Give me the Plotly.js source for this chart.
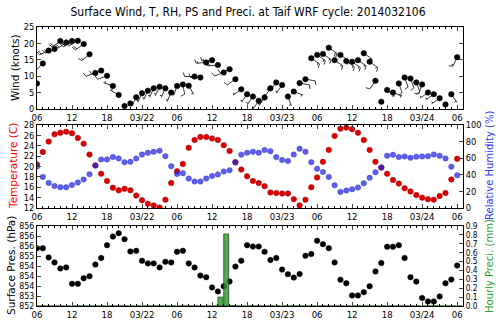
<!DOCTYPE html>
<html><head><meta charset="utf-8">
<script src="https://cdn.plot.ly/plotly-3.0.1.min.js"></script>
<style>html,body{margin:0;padding:0;background:#fff}#c{width:496px;height:323px}</style>
</head><body><div id="c"></div>
<script>
// hours since 2014-03-21 06Z
const hours = Array.from({length:73},(_,i)=>i);
const tickHours = [0,6,12,18,24,30,36,42,48,54,60,66,72];
const tickLabels = ['06','12','18','03/22','06','12','18','03/23','06','12','18','03/24','06'];

const windSpeed = [7.8,13.9,17.8,18.3,20.7,20.3,20.7,20.8,19.8,16.7,11.0,11.7,10.1,7.0,4.3,0.9,1.7,3.6,4.8,5.6,6.3,6.8,6.3,5.0,7.0,7.5,7.1,9.9,9.6,14.2,14.9,13.4,11.1,12.1,9.1,6.0,4.5,3.8,2.5,3.5,6.3,8.1,7.3,3.8,5.3,7.9,9.1,15.5,16.5,16.8,18.7,14.9,16.5,14.6,14.4,14.9,17.0,14.4,8.6,2.2,5.8,5.0,7.8,9.6,9.3,8.1,7.5,5.0,4.5,3.3,1.4,4.5,15.8];
const windDir = [240,225,245,245,235,235,235,240,235,230,250,250,250,290,300,200,200,205,205,205,205,205,205,205,200,170,150,270,270,265,265,265,250,250,235,235,215,215,215,215,215,215,215,160,110,100,100,125,125,125,125,125,125,125,125,125,125,125,215,200,130,110,160,160,160,160,200,235,235,235,200,145,205];

const temperature = [20.4,22.8,24.8,26.2,26.5,26.7,26.4,25.5,24.4,22.3,20.2,18.6,17.2,15.9,15.4,15.7,15.4,14.4,13.5,12.8,12.5,12.1,13.6,16.8,19.1,20.5,23.6,25.1,25.7,25.7,25.4,25.1,24.1,23.0,20.8,19.4,18.1,17.2,16.8,16.2,15.0,14.9,14.8,14.8,13.7,12.5,13.6,16.0,17.9,20.9,23.2,25.9,27.3,27.5,27.2,26.5,25.1,23.2,20.9,19.8,18.6,17.4,16.7,15.8,15.2,14.5,14.0,13.7,13.6,14.3,14.9,17.5,21.5];
const humidity = [50,37.5,30.2,26.6,25.0,25.0,27.8,30.6,34.3,40.7,51.2,58.5,58.5,61.3,59.7,55.2,55.6,59.7,64.5,66.5,67.7,69.0,62.5,50.4,41.1,41.9,35.5,31.9,31.9,35.5,38.5,40.5,44.0,45.5,55.0,64.3,66.5,67.7,66.5,69.8,68.5,61.3,57.7,56.5,64.5,71.4,67.7,55.2,47.2,43.5,37.5,27.4,19.4,21.0,22.6,24.6,29.8,36.3,43.1,48.8,62.9,64.1,61.3,62.1,60.5,61.7,62.1,62.5,64.5,62.9,59.7,49.6,39.5];
const pressure = [855.39,855.39,854.93,854.68,854.38,854.43,853.61,853.61,853.89,853.99,854.57,854.90,855.54,855.97,856.14,855.84,855.23,855.26,854.76,854.63,854.63,854.43,854.71,854.68,855.21,855.26,854.63,854.43,854.02,853.94,853.43,853.23,853.49,853.72,854.47,854.76,855.54,855.47,855.47,855.21,854.80,854.90,854.32,854.09,853.92,854.10,855.01,855.10,855.76,855.59,855.39,854.68,853.81,853.64,853.03,853.03,853.19,853.49,854.22,854.65,855.46,855.46,855.54,854.90,853.94,853.72,852.90,852.73,852.73,852.98,853.64,853.82,854.52];
const precip = hours.map(()=>0);
precip[31]=0.10; precip[32]=0.81; precip[33]=0.006;
const presTicks = [852.5,853,853.5,854,854.5,855,855.5,856,856.5];
const presTickText = ['852','853','854','854','854','855','856','856','856'];

// ---- layout geometry ----
const W=496,H=323, ML=37, MR=33, MT=27, MB=17;
const plotW=W-ML-MR, plotH=H-MT-MB;
const xMax=73;
const windMax=25;
const d1=[(306-109)/plotH,1], d2=[(306-208)/plotH,(306-125)/plotH], d3=[0,(306-226)/plotH];
const pxPerX = plotW/xMax;
const pxPerKt = (d1[1]-d1[0])*plotH/windMax;

// ---- wind barbs built from speed/direction ----
const bx=[],by=[];
const L=10;
function seg(x0,y0,x1,y1){bx.push(x0,x1,null);by.push(y0,y1,null);}
hours.forEach((h,i)=>{
  const s=windSpeed[i];
  const r=windDir[i]*Math.PI/180;
  const dx=Math.sin(r), dy=Math.cos(r);
  const px=dy, py=-dx;
  const mag=5*Math.round(s/5);
  const toX=v=>v/pxPerX, toY=v=>v/pxPerKt;
  if(mag<2.5){
    const rad=0.15*L, n=10;
    for(let k=0;k<=n;k++){const a=2*Math.PI*k/n;bx.push(h+toX(rad*Math.cos(a)));by.push(s+toY(rad*Math.sin(a)));}
    bx.push(null);by.push(null);return;
  }
  const tx=h+toX(L*dx), ty=s+toY(L*dy);
  seg(h,s,tx,ty);
  let nFull=Math.floor(mag/10), half=(mag%10)>=5;
  let off=0; const sp=0.125*L, fh=0.4*L, fw=0.25*L;
  for(let k=0;k<nFull;k++){
    const sx=L-off, ex=sx+fw/2;
    seg(h+toX(sx*dx),s+toY(sx*dy),h+toX(ex*dx+fh*px),s+toY(ex*dy+fh*py));
    off+=sp*1.4;
  }
  if(half){
    if(off===0) off=1.5*sp;
    const sx=L-off, ex=sx+fw/4;
    seg(h+toX(sx*dx),s+toY(sx*dy),h+toX(ex*dx+fh/2*px),s+toY(ex*dy+fh/2*py));
  }
});

const font='DejaVu Sans Condensed, DejaVu Sans, sans-serif';
const tfont='DejaVu Sans, sans-serif';
const mk=(c,lc)=>({size:5.5,color:c,line:{width:0.5,color:lc}});
const traces=[
  {x:bx,y:by,xaxis:'x',yaxis:'y',mode:'lines',line:{color:'#222',width:0.9},hoverinfo:'skip'},
  {x:hours,y:windSpeed,xaxis:'x',yaxis:'y',mode:'markers',marker:mk('#000','#000')},
  {x:hours,y:temperature,xaxis:'x2',yaxis:'y2',mode:'markers',marker:mk('#e00000','#900')},
  {x:hours,y:humidity,xaxis:'x2',yaxis:'y3',mode:'markers',marker:{size:5.5,color:'rgba(40,40,235,0.75)',line:{width:0.5,color:'rgba(20,20,150,0.6)'}}},
  {x:hours,y:precip,xaxis:'x3',yaxis:'y5',type:'bar',width:0.85,offset:0,marker:{color:'rgba(40,150,40,0.8)',line:{color:'#1a4d1a',width:0.8}}},
  {x:hours,y:pressure,xaxis:'x3',yaxis:'y4',mode:'markers',marker:mk('#000','#000')}
];

const xbase=()=>({domain:[0,1],range:[0,xMax],tickvals:tickHours,ticktext:tickLabels,ticks:'inside',ticklen:4,
  showline:true,linecolor:'#000',linewidth:1,mirror:'ticks',showgrid:false,zeroline:false,
  tickfont:{family:font,size:9.5,color:'#000'},
  minor:{ticks:'inside',dtick:1,ticklen:2,tickcolor:'#000',showgrid:false}});
const ybase={ticks:'inside',ticklen:4,showline:true,linecolor:'#000',linewidth:1,showgrid:false,zeroline:false,
  tickfont:{family:font,size:9.2,color:'#000'}};

const px2x=p=>(p-ML)/plotW, py2y=p=>(H-MB-p)/plotH;
const vtitle=(text,xp,yp,color,sz)=>({text,xref:'paper',yref:'paper',x:px2x(xp),y:py2y(yp),xanchor:'center',yanchor:'middle',
  textangle:-90,showarrow:false,font:{family:tfont,size:sz||10.5,color}});

const layout={
  width:W,height:H,margin:{l:ML,r:MR,t:MT,b:MB},paper_bgcolor:'#fff',plot_bgcolor:'#fff',showlegend:false,
  bargap:0,
  title:{text:'Surface Wind, T, RH, PS and Preci. at Taif WRF cycle: 2014032106',font:{family:font,size:12,color:'#000'},x:0.5,xanchor:'center',y:0.975,yanchor:'top'},
  xaxis:Object.assign(xbase(),{anchor:'y'}),
  xaxis2:Object.assign(xbase(),{anchor:'y2'}),
  xaxis3:Object.assign(xbase(),{anchor:'y4'}),
  yaxis:Object.assign({},ybase,{domain:d1,range:[0,windMax],dtick:5,mirror:'ticks',anchor:'x'}),
  yaxis2:Object.assign({},ybase,{domain:d2,range:[12,28],dtick:2,mirror:true,anchor:'x2'}),
  yaxis3:Object.assign({},ybase,{overlaying:'y2',side:'right',range:[0,100],dtick:20,anchor:'x2'}),
  yaxis4:Object.assign({},ybase,{domain:d3,range:[852.5,856.5],tickvals:presTicks,ticktext:presTickText,mirror:true,anchor:'x3',
    tickfont:{family:font,size:8.8,color:'#000'}}),
  yaxis5:Object.assign({},ybase,{overlaying:'y4',side:'right',range:[0,0.9],dtick:0.1,tickformat:'.1f',anchor:'x3',
    tickfont:{family:font,size:8.3,color:'#000'}}),
  annotations:[
    vtitle('Wind (knots)',15,68,'#000'),
    vtitle('Temperature (C)',13,166,'#ff0000'),
    vtitle('Relative Humidity (%)',489,166,'#3030ff',10),
    vtitle('Surface Pres. (hPa)',11,266,'#000'),
    vtitle('Hourly Preci. (mm)',489,266,'#2ca02c',10)
  ]
};
Plotly.newPlot('c',traces,layout,{staticPlot:true});
</script></body></html>
